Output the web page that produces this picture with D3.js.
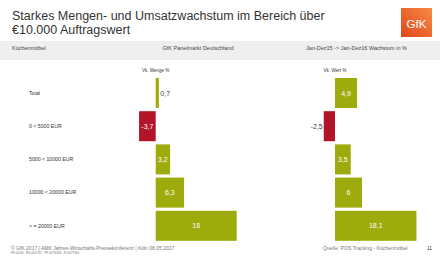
<!DOCTYPE html>
<html>
<head>
<meta charset="utf-8">
<script src="https://cdn.jsdelivr.net/npm/d3@7"></script>
<style>
  body { margin: 0; background: #fff; }
  svg { font-family: "Liberation Sans", Arial, sans-serif; display: block; }
</style>
</head>
<body>
<svg id="chart"></svg>
<script>
// data
const categories = ["Total", "0 < 5000 EUR", "5000 < 10000 EUR", "10000 < 20000 EUR", "> = 20000 EUR"];
const mengeValues = [0.7, -3.7, 3.2, 6.3, 18];
const wertValues = [4.9, -2.5, 3.5, 6, 18.1];
const mengeLabels = ["0,7", "-3,7", "3,2", "6,3", "18"];
const wertLabels = ["4,9", "-2,5", "3,5", "6", "18,1"];

const width = 440;
const height = 259;
const green = "#9dab0c";
const red = "#b3142a";

const svg = d3.select("#chart")
    .attr("width", width)
    .attr("height", height);

// title
const title = svg.append("text")
    .style("font-size", "12.5px")
    .attr("fill", "#333");
title.append("tspan").attr("x", 12).attr("y", 20).text("Starkes Mengen- und Umsatzwachstum im Bereich über");
title.append("tspan").attr("x", 12).attr("y", 33.5).text("€10.000 Auftragswert");

// GfK logo
const grad = svg.append("defs").append("linearGradient")
    .attr("id", "logoGrad")
    .attr("x1", "0").attr("y1", "1").attr("x2", "1").attr("y2", "0");
grad.append("stop").attr("offset", "0").attr("stop-color", "#e2461b");
grad.append("stop").attr("offset", "1").attr("stop-color", "#f58a45");
svg.append("rect")
    .attr("x", 401).attr("y", 8)
    .attr("width", 31).attr("height", 29)
    .attr("fill", "url(#logoGrad)");
svg.append("text")
    .attr("x", 416.5).attr("y", 27.5)
    .style("text-anchor", "middle")
    .style("font-size", "11.5px")
    .attr("fill", "#fff")
    .text("GfK");

// header band
svg.append("rect")
    .attr("x", 0).attr("y", 41)
    .attr("width", width).attr("height", 19)
    .attr("fill", "#efefef");

const header = [
    {x: 12, anchor: "start", t: "Küchenmöbel"},
    {x: 198, anchor: "middle", t: "GfK Panelmarkt Deutschland"},
    {x: 356.5, anchor: "middle", t: "Jan-Dez15 -> Jan-Dez16 Wachstum in %"}
];
svg.selectAll(".hdr")
    .data(header)
    .enter()
    .append("text")
        .attr("class", "hdr")
        .attr("x", d => d.x)
        .attr("y", 49.5)
        .style("text-anchor", d => d.anchor)
        .style("font-size", "5.5px")
        .attr("fill", "#444")
        .text(d => d.t);

// rows
const yScale = d3.scaleBand()
    .domain(categories)
    .range([76.4, 242.4])
    .paddingInner(0.096)
    .paddingOuter(0.048);

svg.selectAll(".cat")
    .data(categories)
    .enter()
    .append("text")
        .attr("class", "cat")
        .attr("x", 29)
        .attr("y", d => yScale(d) + yScale.bandwidth() / 2 + 1.8)
        .style("font-size", "5.2px")
        .attr("fill", "#333")
        .text(d => d);

function barChart(values, labels, zeroX, heading) {
    const xScale = d3.scaleLinear()
        .domain([0, 18])
        .range([zeroX, zeroX + 81]);

    svg.append("text")
        .attr("x", zeroX)
        .attr("y", 72)
        .style("text-anchor", "middle")
        .style("font-size", "4.6px")
        .attr("fill", "#333")
        .text(heading);

    const rows = categories.map((c, i) => ({c, v: values[i], l: labels[i]}));

    svg.selectAll(null)
        .data(rows)
        .enter()
        .append("rect")
            .attr("x", d => xScale(Math.min(0, d.v)))
            .attr("y", d => yScale(d.c))
            .attr("width", d => Math.abs(xScale(d.v) - xScale(0)))
            .attr("height", yScale.bandwidth())
            .attr("fill", d => d.v < 0 ? red : green);

    // labels: inside when the bar is wide enough, outside otherwise
    const narrow = d => Math.abs(xScale(d.v) - xScale(0)) < 14;
    svg.selectAll(null)
        .data(rows)
        .enter()
        .append("text")
            .attr("x", d => {
                if (narrow(d)) return d.v < 0 ? xScale(d.v) - 1 : xScale(d.v) + 1.5;
                return (xScale(d.v) + xScale(0)) / 2;
            })
            .attr("y", d => yScale(d.c) + yScale.bandwidth() / 2 + 2.5)
            .style("text-anchor", d => narrow(d) ? (d.v < 0 ? "end" : "start") : "middle")
            .style("font-size", "7px")
            .attr("fill", d => narrow(d) ? "#444" : "#fff")
            .text(d => d.l);
}

barChart(mengeValues, mengeLabels, 155.7, "Vk. Menge %");
barChart(wertValues, wertLabels, 335, "Vk. Wert %");

// footer
svg.append("text")
    .attr("x", 11).attr("y", 249.5)
    .style("font-size", "5px")
    .attr("fill", "#777")
    .text("© GfK 2017 | AMK Jahres-Wirtschafts-Pressekonferenz | Köln 08.05.2017");
svg.append("text")
    .attr("x", 11).attr("y", 254)
    .style("font-size", "2.8px")
    .attr("fill", "#777")
    .text("PN-00000 - RG-0005767 - FP 00756836 - R 01077600");
svg.append("text")
    .attr("x", 323).attr("y", 250)
    .style("font-size", "5.1px")
    .attr("fill", "#777")
    .text("Quelle: POS Tracking - Küchenmöbel");
svg.append("text")
    .attr("x", 427).attr("y", 250)
    .style("font-size", "4.8px")
    .attr("fill", "#333")
    .text("11");
</script>
</body>
</html>
